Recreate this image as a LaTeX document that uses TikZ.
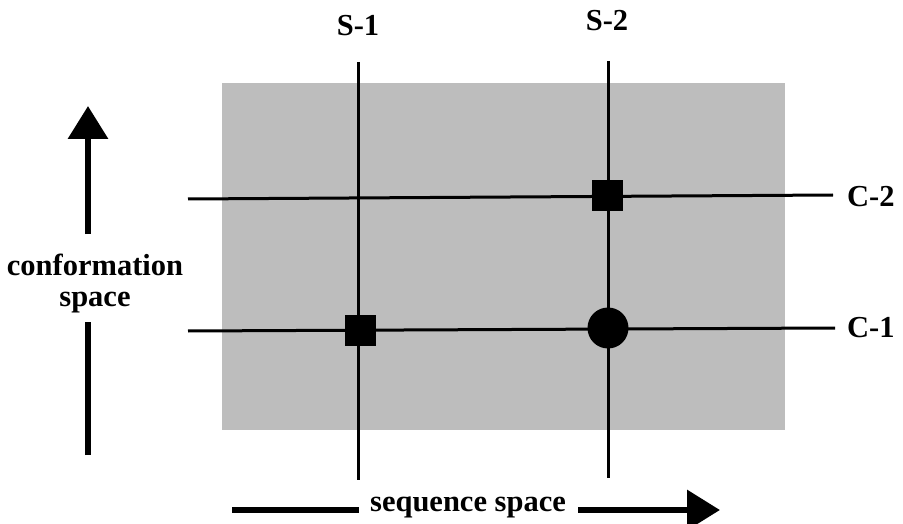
\documentclass[tikz,border=0pt]{standalone}
\usepackage{fontspec}
\setmainfont{Liberation Serif}
\usetikzlibrary{arrows.meta}
\tikzset{
  lbl/.style={font=\fontsize{30.5}{31}\selectfont\bfseries, inner sep=0pt},
  gridline/.style={line width=3pt, black},
  bigarrow/.style={line width=6.5pt, -{Triangle[length=33pt,width=39pt]}},
  shaft/.style={line width=6.5pt},
  marksq/.style={fill=black, minimum size=31pt, inner sep=0pt, draw=none},
  markci/.style={fill=black, circle, minimum size=41pt, inner sep=0pt, draw=none}
}
\begin{document}
\begin{tikzpicture}[x=1pt,y=-1pt]
\useasboundingbox (0,0) rectangle (903,524);
\fill[black!26] (222,83) rectangle (785,430);
% line end coordinates
\coordinate (s1t) at (358,62); \coordinate (s1b) at (358,480);
\coordinate (s2t) at (608,61); \coordinate (s2b) at (608,478);
\coordinate (c2l) at (188,199); \coordinate (c2r) at (833,195);
\coordinate (c1l) at (188,331); \coordinate (c1r) at (835,328);
\draw[gridline] (s1t) -- (s1b);
\draw[gridline] (s2t) -- (s2b);
\draw[gridline] (c2l) -- (c2r);
\draw[gridline] (c1l) -- (c1r);
\node[marksq] (m1) at (360,330) {};
\node[marksq] (m2) at (607,196) {};
\node[markci] (m3) at (608,328) {};
% labels
\node[lbl] (S1) at (358,26) {S-1};
\node[lbl] (S2) at (607,21) {S-2};
\node[lbl, anchor=west] (C2) at (847,197) {C-2};
\node[lbl, anchor=west] (C1) at (847,328) {C-1};
\node[lbl, align=center] (conf) at (95,284) {conformation\\space};
\node[lbl] (seq) at (468,507) {sequence space};
% conformation arrow
\coordinate (ca1) at (88,234); \coordinate (ca2) at (88,106);
\coordinate (cb1) at (88,455); \coordinate (cb2) at (88,322);
\draw[bigarrow] (ca1) -- (ca2);
\draw[shaft] (cb1) -- (cb2);
% sequence arrow
\coordinate (sa1) at (232,510); \coordinate (sa2) at (359,510);
\coordinate (sb1) at (578,510); \coordinate (sb2) at (720,510);
\draw[shaft] (sa1) -- (sa2);
\draw[bigarrow] (sb1) -- (sb2);
\end{tikzpicture}
\end{document}
